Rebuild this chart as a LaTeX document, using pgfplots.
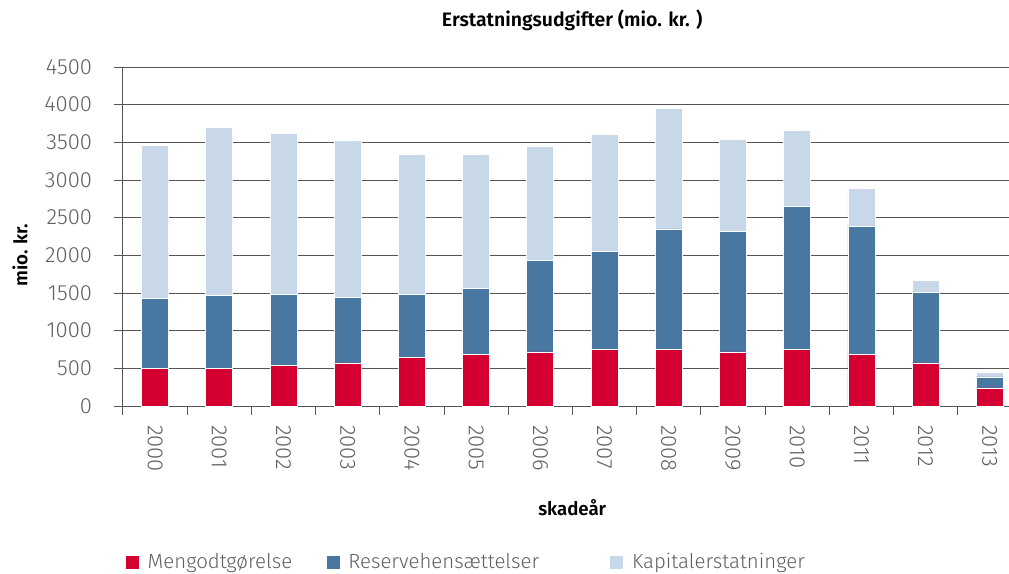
\documentclass[border=0pt]{standalone}
\usepackage{pgfplots}
\pgfplotsset{compat=1.18}
\usepackage{fontspec}
\IfFontExistsTF{Fira Sans Light}{\setmainfont{Fira Sans}[UprightFont=* Light, BoldFont=* SemiBold]}{\setmainfont{Fira Sans}}
\definecolor{cred}{RGB}{213,0,50}
\definecolor{cblue}{RGB}{72,120,162}
\definecolor{clight}{RGB}{201,216,232}
\definecolor{cgrid}{RGB}{85,85,85}
\definecolor{ctext}{RGB}{95,95,95}
\pgfplotstableread{
x meng reserve kapital
0 497 931 2035
1 497 975 2221
2 537 939 2150
3 572 874 2074
4 643 842 1853
5 683 882 1778
6 718 1219 1516
7 754 1294 1561
8 754 1596 1595
9 718 1596 1228
10 754 1893 1015
11 683 1703 505
12 572 936 164
13 240 146 66
}\datatable
\begin{document}
\begin{tikzpicture}
\useasboundingbox (-92.25pt,-126pt) rectangle (664.5pt,304.5pt);
\begin{axis}[
  at={(0pt,0pt)}, anchor=south west,
  scale only axis, width=664.5pt, height=254.25pt,
  xmin=-0.5, xmax=13.3, ymin=0, ymax=4500,
  ybar stacked, bar width=20.25pt,
  axis lines*=left, axis line style={draw=cgrid, line width=0.75pt, -},
  ymajorgrids, grid style={draw=cgrid, line width=0.75pt},
  ytick={0,500,...,4500},
  xtick={0,...,13},
  xticklabels={2000,2001,2002,2003,2004,2005,2006,2007,2008,2009,2010,2011,2012,2013},
  minor xtick={-0.5,0.5,...,12.5},
  tick align=outside, major tick length=6.75pt, minor tick length=6.75pt,
  tick style={draw=cgrid, line width=0.75pt},
  major x tick style={draw=none},
  xticklabel style={rotate=-90, anchor=west, xshift=0pt, font=\fontsize{16.5}{18}\selectfont, text=ctext},
  xticklabel shift=4pt,
  yticklabel style={font=\fontsize{16.5}{18}\selectfont, text=ctext, xshift=-13pt},
  scaled y ticks=false,
  /pgf/number format/assume math mode=true, /pgf/number format/1000 sep={},
  title={Erstatningsudgifter (mio. kr. )},
  title style={at={(axis description cs:0.507,1.115)}, anchor=center, font=\bfseries\fontsize{14.6}{16}\selectfont},
  xlabel={skadeår},
  xlabel style={at={(axis description cs:0.507,-0.301)}, anchor=center, font=\bfseries\fontsize{14}{16}\selectfont},
  ylabel={mio. kr.},
  ylabel style={at={(axis description cs:-0.1163,0.445)}, anchor=center, font=\bfseries\fontsize{14}{16}\selectfont},
  legend style={at={(axis description cs:0.002,-0.460)}, anchor=west, legend columns=3, draw=none, fill=none, inner sep=0pt,
    font=\fontsize{15.3}{18}\selectfont, text=ctext,
    /tikz/every odd column/.append style={column sep=6pt}, nodes={inner sep=0pt}},
  legend image code/.code={\fill[#1] (0pt,-5.25pt) rectangle (10.5pt,5.25pt);},
]
\addplot[fill=cred, draw=white, line width=0.5pt] table[x=x,y=meng]{\datatable};
\addlegendentry{\makebox[133.5pt][l]{Mengodtgørelse}}
\addplot[fill=cblue, draw=white, line width=0.5pt] table[x=x,y=reserve]{\datatable};
\addlegendentry{\makebox[195.75pt][l]{Reservehensættelser}}
\addplot[fill=clight, draw=white, line width=0.5pt] table[x=x,y=kapital]{\datatable};
\addlegendentry{Kapitalerstatninger}
\end{axis}
\end{tikzpicture}
\end{document}
